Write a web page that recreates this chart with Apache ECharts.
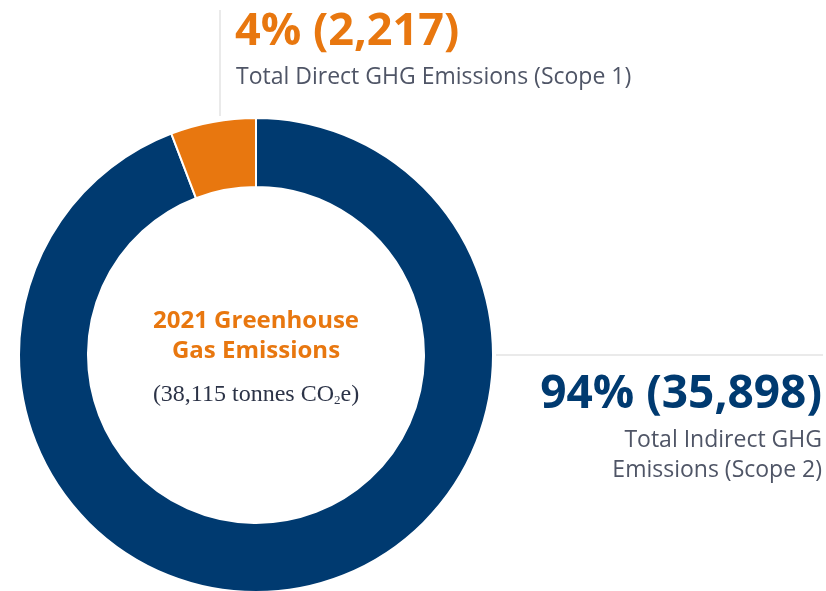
<!DOCTYPE html>
<html>
<head>
<meta charset="utf-8">
<script src="https://cdn.jsdelivr.net/npm/echarts@6/dist/echarts.min.js"></script>
<style>
    html, body {margin: 0; padding: 0; background: #fff;}
    #chart {width: 826px; height: 591px;}
</style>
</head>
<body>
<div id="chart"></div>
<script>
// data
var names = ['Total Indirect GHG Emissions (Scope 2)', 'Total Direct GHG Emissions (Scope 1)'];
var values = [35898, 2217];
var pctLabels = ['94%', '4%'];
var colors = ['#003a70', '#e8770f'];
var title = ['2021 Greenhouse', 'Gas Emissions'];
var totalTonnes = 38115;

function fmt(n) {
    return n.toLocaleString('en-US');
}

chart();

function chart() {
    var myChart = echarts.init(document.getElementById('chart'));
    var cx = 256, cy = 355;
    var gray = '#4f5566';
    var font = '"Open Sans"';

    option = {
        animation: false,
        series: [
            {
                name: 'GHG',
                type: 'pie',
                center: [cx, cy],
                radius: [168, 237],
                startAngle: 90,
                clockwise: true,
                label: {show: false},
                labelLine: {show: false},
                itemStyle: {borderColor: '#fff', borderWidth: 2},
                emphasis: {disabled: true},
                data: [
                    {value: values[0], name: names[0], itemStyle: {color: colors[0]}},
                    {value: values[1], name: names[1], itemStyle: {color: colors[1]}}
                ]
            }
        ],
        graphic: [
            // leader lines
            {type: 'line', shape: {x1: 220, y1: 10, x2: 220, y2: 116}, style: {stroke: '#e3e3e3', lineWidth: 1.5}},
            {type: 'line', shape: {x1: 496, y1: 355, x2: 823, y2: 355}, style: {stroke: '#e3e3e3', lineWidth: 1.5}},
            // scope 1 label
            {
                type: 'text', x: 235, y: 10,
                style: {text: pctLabels[1] + ' (' + fmt(values[1]) + ')', fill: colors[1], font: 'bold 45px ' + font}
            },
            {
                type: 'text', x: 236, y: 66,
                style: {text: names[1], fill: gray, font: '23px ' + font}
            },
            // scope 2 label
            {
                type: 'text', x: 822, y: 372,
                style: {text: pctLabels[0] + ' (' + fmt(values[0]) + ')', fill: colors[0], font: 'bold 46px ' + font, align: 'right'}
            },
            {
                type: 'text', x: 822, y: 425,
                style: {text: 'Total Indirect GHG\nEmissions (Scope 2)', fill: gray, font: '23px ' + font, lineHeight: 30, align: 'right'}
            },
            // centre title
            {
                type: 'text', x: cx, y: 306,
                style: {text: title.join('\n'), fill: colors[1], font: 'bold 24px ' + font, lineHeight: 30, align: 'center'}
            },
            {
                type: 'text', x: cx, y: 381,
                style: {
                    align: 'center',
                    text: '{a|(' + fmt(totalTonnes) + ' tonnes CO}{s|2}{a|e)}',
                    rich: {
                        a: {font: '24px "Liberation Serif"', fill: '#2c3347', verticalAlign: 'bottom'},
                        s: {font: '13px "Liberation Serif"', fill: '#2c3347', padding: [13, 0, 0, 0], verticalAlign: 'bottom'}
                    }
                }
            }
        ]
    };

    myChart.setOption(option);
    window.addEventListener('resize', function () {
        myChart.resize();
    })
}
</script>
</body>
</html>
